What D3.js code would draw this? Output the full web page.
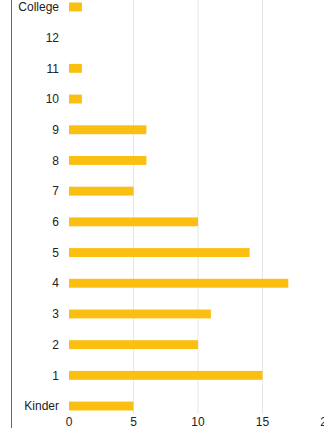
<!DOCTYPE html>
<html><head><meta charset="utf-8">
<script src="https://cdn.jsdelivr.net/npm/d3@7"></script>
<style>body{margin:0;background:#fff;overflow:hidden}svg{display:block}</style>
</head><body>
<script>
const categories = ["College","12","11","10","9","8","7","6","5","4","3","2","1","Kinder"];
const values = [1,0,1,1,6,6,5,10,14,17,11,10,15,5];
const xTicks = [0,5,10,15,20];

const W = 324, H = 428;
const svg = d3.select("body").append("svg").attr("width", W).attr("height", H);

const x = d3.scaleLinear().domain([0,20]).range([69,327]);
const y = d3.scaleBand().domain(categories).range([-8.4, 421.4]).paddingInner(0.71).paddingOuter(0.355);

// gridlines
svg.append("g").selectAll("line").data(xTicks.filter(t=>t>0)).join("line")
  .attr("x1", d=>x(d)).attr("x2", d=>x(d)).attr("y1", 0).attr("y2", 414)
  .attr("stroke", "#e6e6e6").attr("stroke-width", 1);

// left border
svg.append("line").attr("x1", 11.5).attr("x2", 11.5).attr("y1", 0).attr("y2", H)
  .attr("stroke", "#666").attr("stroke-width", 1);

// bars
svg.append("g").selectAll("rect").data(categories).join("rect")
  .attr("x", x(0)).attr("y", d=>y(d))
  .attr("width", (d,i)=>x(values[i])-x(0)).attr("height", y.bandwidth())
  .attr("fill", "#fbbf12");

// y labels
svg.append("g").selectAll("text").data(categories).join("text")
  .attr("x", 59).attr("y", d=>y(d)+y.bandwidth()/2).attr("dy", "0.35em")
  .attr("text-anchor", "end").attr("font-family", "Liberation Sans, Arial, sans-serif")
  .attr("font-size", 12).attr("fill", "#222").text(d=>d);

// x labels
svg.append("g").selectAll("text").data(xTicks).join("text")
  .attr("x", d=>x(d)).attr("y", 426)
  .attr("text-anchor", "middle").attr("font-family", "Liberation Sans, Arial, sans-serif")
  .attr("font-size", 12).attr("fill", "#222").text(d=>d);
</script>
</body></html>
